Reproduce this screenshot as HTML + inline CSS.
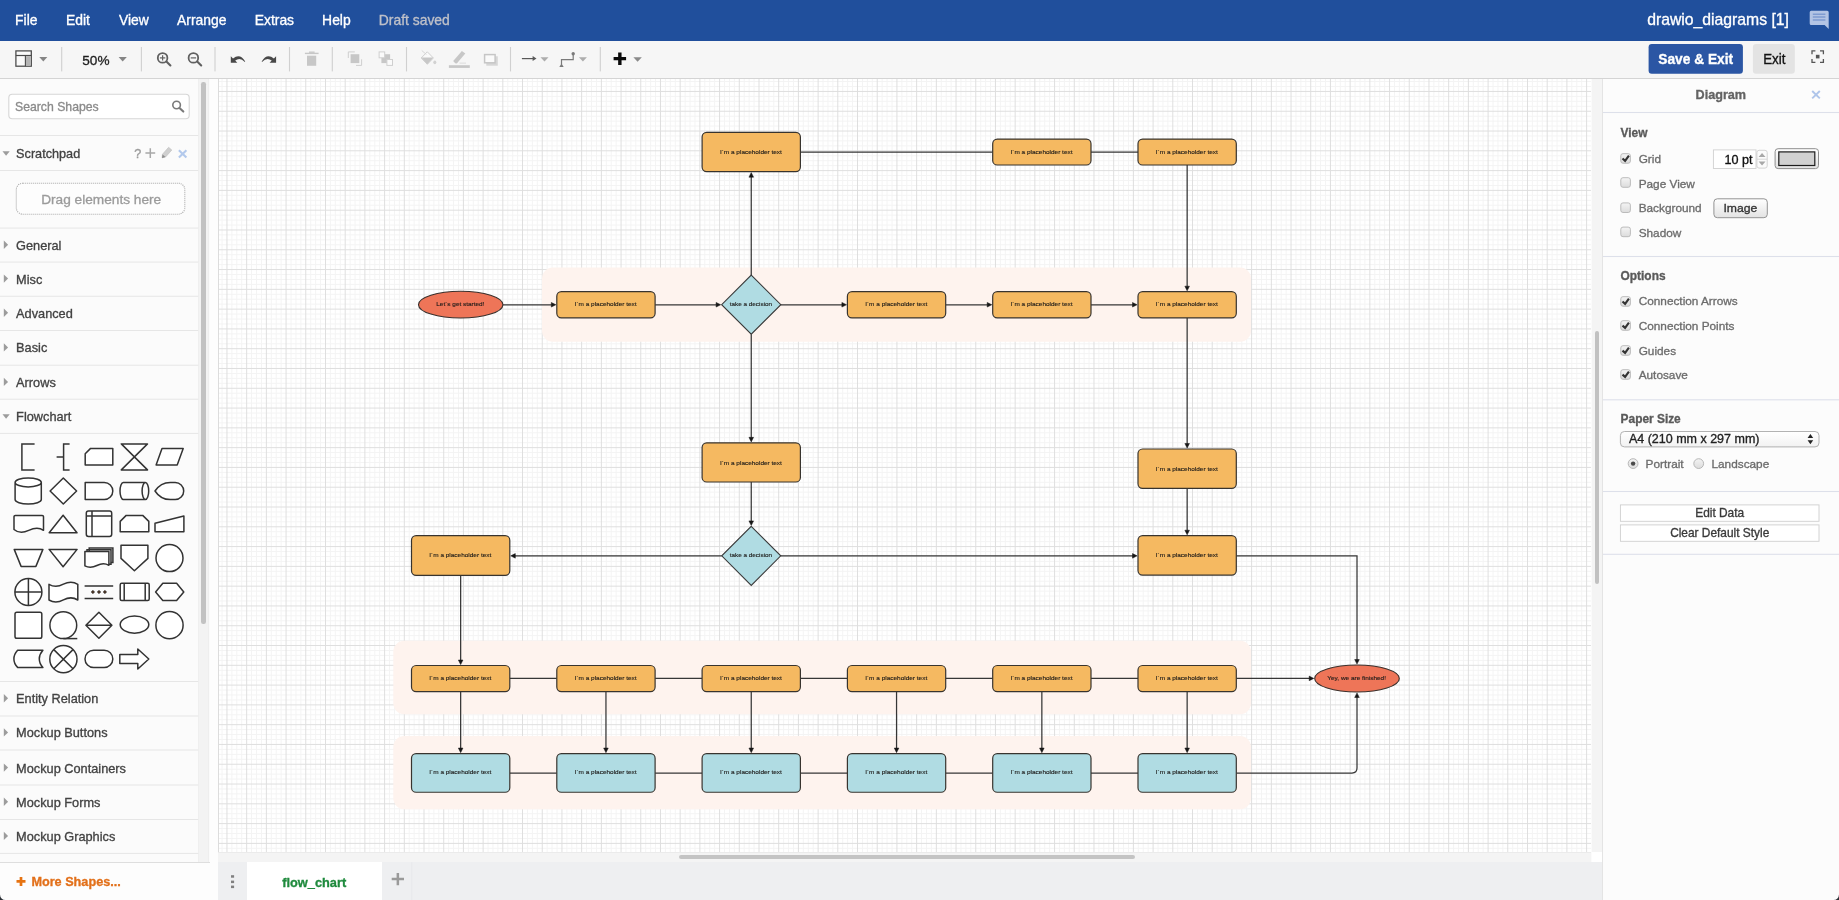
<!DOCTYPE html><html><head><meta charset="utf-8"><title>draw.io</title><style>
*{box-sizing:border-box;margin:0;padding:0}
html,body{width:1839px;height:900px;overflow:hidden;background:#fbfbfb;font-family:"Liberation Sans",sans-serif;}
.abs{position:absolute}
svg{will-change:transform}
#menubar{left:0;top:0;width:1839px;height:40.5px;background:#204f9c}
#menubar span{position:absolute;top:0;line-height:40.5px;color:#fff;font-size:13.8px;white-space:nowrap}
#toolbar{left:0;top:40.5px;width:1839px;height:38px;background:#f6f6f6;border-bottom:1px solid #d4d4d4}
.tsep{position:absolute;top:6.5px;width:1px;height:24.5px;background:#d2d2d2}
#sidebar{left:0;top:78.5px;width:198.3px;height:783.5px;background:#fbfbfb;overflow:hidden}
#sbtrack{left:198.3px;top:78.5px;width:11.2px;height:783.5px;background:#f3f3f3;border-left:1px solid #efefef;border-right:1px solid #eeeeee}
#sbthumb{left:201.4px;top:82.3px;width:4.4px;height:541.5px;background:#c2c2c2;border-radius:2.2px}
#split{left:209.5px;top:78.5px;width:8.8px;height:821.5px;background:#fdfdfd}
#sbfoot{left:0;top:862px;width:209.5px;height:38px;background:#fdfdfd;border-top:1px solid #dedede}
#canvas{left:218.3px;top:78.5px;width:1373.2px;height:773.4px;background:#fff;border-left:1px solid #dcdcdc;overflow:hidden}
#vtrack{left:1591.5px;top:78.5px;width:10px;height:773.4px;background:#f4f4f4}
#vthumb{left:1595px;top:331px;width:4px;height:253px;background:#c1c1c1;border-radius:2px}
#htrack{left:218.3px;top:851.9px;width:1373.2px;height:10.3px;background:#f4f4f4;border-top:1px solid #ebebeb}
#hthumb{left:679px;top:855.2px;width:455.8px;height:3.7px;background:#c4c4c4;border-radius:2px}
#corner{left:1591.5px;top:851.9px;width:10px;height:10.3px;background:#fff}
#tabbar{left:218.3px;top:862.2px;width:1384px;height:38px;background:#eeeff1}
#tab{left:247.2px;top:862.2px;width:135.1px;height:38px;background:#fff}
#format{left:1601.5px;top:78.5px;width:237.5px;height:821.5px;background:#fcfcfc;border-left:1.3px solid #e4e4e4}
.sec{position:absolute;left:0;width:198.3px;height:1px;background:#e4e4e4}
.sh{position:absolute;left:16.1px;font-size:12.8px;color:#3c3c3c;white-space:nowrap;line-height:16px}
.fl{position:absolute;font-size:11.8px;color:#5c5c5c;white-space:nowrap;line-height:14px}
.fb{position:absolute;font-size:11.9px;font-weight:bold;color:#585858;white-space:nowrap;line-height:14px}
.fsep{position:absolute;left:1px;width:236px;height:1px;background:#dfe2ec}
.cb{position:absolute;left:19px;width:10.3px;height:10.3px;border:1px solid #b4b4b4;border-radius:2.2px;background:linear-gradient(#fdfdfd,#e9e9e9)}
</style></head><body>
<div id="sidebar" class="abs"></div><div id="sbtrack" class="abs"></div><div id="sbthumb" class="abs"></div><div id="split" class="abs"></div><div id="sbfoot" class="abs"></div>
<div id="canvas" class="abs"><svg class="abs" style="left:-219.3px;top:-78.5px" width="1839" height="900" viewBox="0 0 1839 900" font-family="Liberation Sans, sans-serif">
<path d="M222.03 78V853M231.89 78V853M236.81 78V853M241.74 78V853M251.59 78V853M256.52 78V853M261.44 78V853M271.30 78V853M276.22 78V853M281.15 78V853M291.00 78V853M295.93 78V853M300.85 78V853M310.71 78V853M315.63 78V853M320.56 78V853M330.41 78V853M335.34 78V853M340.26 78V853M350.12 78V853M355.04 78V853M359.97 78V853M369.82 78V853M374.75 78V853M379.67 78V853M389.53 78V853M394.45 78V853M399.38 78V853M409.23 78V853M414.16 78V853M419.08 78V853M428.94 78V853M433.86 78V853M438.79 78V853M448.64 78V853M453.57 78V853M458.49 78V853M468.35 78V853M473.27 78V853M478.20 78V853M488.05 78V853M492.98 78V853M497.90 78V853M507.76 78V853M512.68 78V853M517.61 78V853M527.46 78V853M532.39 78V853M537.31 78V853M547.17 78V853M552.09 78V853M557.02 78V853M566.87 78V853M571.80 78V853M576.72 78V853M586.58 78V853M591.50 78V853M596.43 78V853M606.28 78V853M611.21 78V853M616.13 78V853M625.99 78V853M630.91 78V853M635.84 78V853M645.69 78V853M650.62 78V853M655.54 78V853M665.40 78V853M670.32 78V853M675.25 78V853M685.10 78V853M690.03 78V853M694.95 78V853M704.81 78V853M709.73 78V853M714.66 78V853M724.51 78V853M729.44 78V853M734.36 78V853M744.22 78V853M749.14 78V853M754.07 78V853M763.92 78V853M768.85 78V853M773.77 78V853M783.63 78V853M788.55 78V853M793.48 78V853M803.33 78V853M808.26 78V853M813.18 78V853M823.04 78V853M827.96 78V853M832.89 78V853M842.74 78V853M847.67 78V853M852.59 78V853M862.45 78V853M867.37 78V853M872.30 78V853M882.15 78V853M887.08 78V853M892.00 78V853M901.86 78V853M906.78 78V853M911.71 78V853M921.56 78V853M926.49 78V853M931.41 78V853M941.27 78V853M946.19 78V853M951.12 78V853M960.97 78V853M965.90 78V853M970.82 78V853M980.68 78V853M985.60 78V853M990.53 78V853M1000.38 78V853M1005.31 78V853M1010.23 78V853M1020.09 78V853M1025.01 78V853M1029.94 78V853M1039.79 78V853M1044.72 78V853M1049.64 78V853M1059.50 78V853M1064.42 78V853M1069.35 78V853M1079.20 78V853M1084.13 78V853M1089.05 78V853M1098.91 78V853M1103.83 78V853M1108.76 78V853M1118.61 78V853M1123.54 78V853M1128.46 78V853M1138.32 78V853M1143.24 78V853M1148.17 78V853M1158.02 78V853M1162.95 78V853M1167.87 78V853M1177.73 78V853M1182.65 78V853M1187.58 78V853M1197.43 78V853M1202.36 78V853M1207.28 78V853M1217.14 78V853M1222.06 78V853M1226.99 78V853M1236.84 78V853M1241.77 78V853M1246.69 78V853M1256.55 78V853M1261.47 78V853M1266.40 78V853M1276.25 78V853M1281.18 78V853M1286.10 78V853M1295.96 78V853M1300.88 78V853M1305.81 78V853M1315.66 78V853M1320.59 78V853M1325.51 78V853M1335.37 78V853M1340.29 78V853M1345.22 78V853M1355.07 78V853M1360.00 78V853M1364.92 78V853M1374.78 78V853M1379.70 78V853M1384.63 78V853M1394.48 78V853M1399.41 78V853M1404.33 78V853M1414.19 78V853M1419.11 78V853M1424.04 78V853M1433.89 78V853M1438.82 78V853M1443.74 78V853M1453.60 78V853M1458.52 78V853M1463.45 78V853M1473.30 78V853M1478.23 78V853M1483.15 78V853M1493.01 78V853M1497.93 78V853M1502.86 78V853M1512.71 78V853M1517.64 78V853M1522.56 78V853M1532.42 78V853M1537.34 78V853M1542.27 78V853M1552.12 78V853M1557.05 78V853M1561.97 78V853M1571.83 78V853M1576.75 78V853M1581.68 78V853M1591.53 78V853M218 81.56H1593M218 86.50H1593M218 96.40H1593M218 101.34H1593M218 106.29H1593M218 116.19H1593M218 121.13H1593M218 126.08H1593M218 135.97H1593M218 140.92H1593M218 145.87H1593M218 155.76H1593M218 160.71H1593M218 165.66H1593M218 175.55H1593M218 180.50H1593M218 185.44H1593M218 195.34H1593M218 200.28H1593M218 205.23H1593M218 215.12H1593M218 220.07H1593M218 225.02H1593M218 234.91H1593M218 239.86H1593M218 244.81H1593M218 254.70H1593M218 259.65H1593M218 264.60H1593M218 274.49H1593M218 279.44H1593M218 284.38H1593M218 294.28H1593M218 299.22H1593M218 304.17H1593M218 314.06H1593M218 319.01H1593M218 323.96H1593M218 333.85H1593M218 338.80H1593M218 343.75H1593M218 353.64H1593M218 358.59H1593M218 363.53H1593M218 373.43H1593M218 378.38H1593M218 383.32H1593M218 393.22H1593M218 398.16H1593M218 403.11H1593M218 413.00H1593M218 417.95H1593M218 422.90H1593M218 432.79H1593M218 437.74H1593M218 442.69H1593M218 452.58H1593M218 457.53H1593M218 462.47H1593M218 472.37H1593M218 477.32H1593M218 482.26H1593M218 492.16H1593M218 497.10H1593M218 502.05H1593M218 511.94H1593M218 516.89H1593M218 521.84H1593M218 531.73H1593M218 536.68H1593M218 541.63H1593M218 551.52H1593M218 556.47H1593M218 561.42H1593M218 571.31H1593M218 576.26H1593M218 581.20H1593M218 591.10H1593M218 596.04H1593M218 600.99H1593M218 610.89H1593M218 615.83H1593M218 620.78H1593M218 630.67H1593M218 635.62H1593M218 640.57H1593M218 650.46H1593M218 655.41H1593M218 660.36H1593M218 670.25H1593M218 675.20H1593M218 680.14H1593M218 690.04H1593M218 694.98H1593M218 699.93H1593M218 709.83H1593M218 714.77H1593M218 719.72H1593M218 729.61H1593M218 734.56H1593M218 739.51H1593M218 749.40H1593M218 754.35H1593M218 759.30H1593M218 769.19H1593M218 774.14H1593M218 779.08H1593M218 788.98H1593M218 793.92H1593M218 798.87H1593M218 808.77H1593M218 813.71H1593M218 818.66H1593M218 828.55H1593M218 833.50H1593M218 838.45H1593M218 848.34H1593" stroke="#f4f4f4" stroke-width="1" fill="none"/>
<path d="M226.96 78V853M246.67 78V853M266.37 78V853M286.07 78V853M305.78 78V853M325.49 78V853M345.19 78V853M364.89 78V853M384.60 78V853M404.30 78V853M424.01 78V853M443.72 78V853M463.42 78V853M483.12 78V853M502.83 78V853M522.53 78V853M542.24 78V853M561.94 78V853M581.65 78V853M601.36 78V853M621.06 78V853M640.76 78V853M660.47 78V853M680.17 78V853M699.88 78V853M719.58 78V853M739.29 78V853M759.00 78V853M778.70 78V853M798.40 78V853M818.11 78V853M837.81 78V853M857.52 78V853M877.23 78V853M896.93 78V853M916.63 78V853M936.34 78V853M956.04 78V853M975.75 78V853M995.45 78V853M1015.16 78V853M1034.87 78V853M1054.57 78V853M1074.27 78V853M1093.98 78V853M1113.68 78V853M1133.39 78V853M1153.09 78V853M1172.80 78V853M1192.50 78V853M1212.21 78V853M1231.91 78V853M1251.62 78V853M1271.33 78V853M1291.03 78V853M1310.73 78V853M1330.44 78V853M1350.14 78V853M1369.85 78V853M1389.55 78V853M1409.26 78V853M1428.96 78V853M1448.67 78V853M1468.38 78V853M1488.08 78V853M1507.78 78V853M1527.49 78V853M1547.19 78V853M1566.90 78V853M1586.61 78V853M218 91.45H1593M218 111.24H1593M218 131.03H1593M218 150.81H1593M218 170.60H1593M218 190.39H1593M218 210.18H1593M218 229.97H1593M218 249.75H1593M218 269.54H1593M218 289.33H1593M218 309.12H1593M218 328.91H1593M218 348.69H1593M218 368.48H1593M218 388.27H1593M218 408.06H1593M218 427.85H1593M218 447.63H1593M218 467.42H1593M218 487.21H1593M218 507.00H1593M218 526.79H1593M218 546.57H1593M218 566.36H1593M218 586.15H1593M218 605.94H1593M218 625.73H1593M218 645.51H1593M218 665.30H1593M218 685.09H1593M218 704.88H1593M218 724.67H1593M218 744.45H1593M218 764.24H1593M218 784.03H1593M218 803.82H1593M218 823.61H1593M218 843.39H1593" stroke="#dfdfdf" stroke-width="1" fill="none"/>
<rect x="542" y="267.6" width="709" height="74.1" rx="11" fill="#fef3ee"/>
<rect x="393.3" y="640.7" width="857.7" height="73.6" rx="11" fill="#fef3ee"/>
<rect x="393.3" y="736" width="857.7" height="73.3" rx="11" fill="#fef3ee"/>
<path d="M502.9 304.75 L551.8 304.75" fill="none" stroke="#363636" stroke-width="1.25"/>
<path d="M555.90 304.75 L551.30 307.05 L551.30 302.45 Z" fill="#161616" stroke="#161616" stroke-width="0.5" stroke-linejoin="miter"/>
<path d="M655.1 304.75 L716.6 304.75" fill="none" stroke="#363636" stroke-width="1.25"/>
<path d="M720.70 304.75 L716.10 307.05 L716.10 302.45 Z" fill="#161616" stroke="#161616" stroke-width="0.5" stroke-linejoin="miter"/>
<path d="M780.9 304.75 L842.4 304.75" fill="none" stroke="#363636" stroke-width="1.25"/>
<path d="M846.50 304.75 L841.90 307.05 L841.90 302.45 Z" fill="#161616" stroke="#161616" stroke-width="0.5" stroke-linejoin="miter"/>
<path d="M945.7 304.75 L987.7 304.75" fill="none" stroke="#363636" stroke-width="1.25"/>
<path d="M991.80 304.75 L987.20 307.05 L987.20 302.45 Z" fill="#161616" stroke="#161616" stroke-width="0.5" stroke-linejoin="miter"/>
<path d="M1091 304.75 L1133 304.75" fill="none" stroke="#363636" stroke-width="1.25"/>
<path d="M1137.10 304.75 L1132.50 307.05 L1132.50 302.45 Z" fill="#161616" stroke="#161616" stroke-width="0.5" stroke-linejoin="miter"/>
<path d="M751.25 275.1 L751.25 176.7" fill="none" stroke="#363636" stroke-width="1.25"/>
<path d="M751.25 172.60 L753.55 177.20 L748.95 177.20 Z" fill="#161616" stroke="#161616" stroke-width="0.5" stroke-linejoin="miter"/>
<path d="M800.4 152 L992.7 152" fill="none" stroke="#363636" stroke-width="1.25"/>
<path d="M1091 152 L1138 152" fill="none" stroke="#363636" stroke-width="1.25"/>
<path d="M1187.15 165.1 L1187.15 286.7" fill="none" stroke="#363636" stroke-width="1.25"/>
<path d="M1187.15 290.80 L1184.85 286.20 L1189.45 286.20 Z" fill="#161616" stroke="#161616" stroke-width="0.5" stroke-linejoin="miter"/>
<path d="M1187.15 317.9 L1187.15 444" fill="none" stroke="#363636" stroke-width="1.25"/>
<path d="M1187.15 448.10 L1184.85 443.50 L1189.45 443.50 Z" fill="#161616" stroke="#161616" stroke-width="0.5" stroke-linejoin="miter"/>
<path d="M1187.15 488.3 L1187.15 530.7" fill="none" stroke="#363636" stroke-width="1.25"/>
<path d="M1187.15 534.80 L1184.85 530.20 L1189.45 530.20 Z" fill="#161616" stroke="#161616" stroke-width="0.5" stroke-linejoin="miter"/>
<path d="M751.25 334.2 L751.25 437.85" fill="none" stroke="#363636" stroke-width="1.25"/>
<path d="M751.25 441.95 L748.95 437.35 L753.55 437.35 Z" fill="#161616" stroke="#161616" stroke-width="0.5" stroke-linejoin="miter"/>
<path d="M751.25 482 L751.25 521.4" fill="none" stroke="#363636" stroke-width="1.25"/>
<path d="M751.25 525.50 L748.95 520.90 L753.55 520.90 Z" fill="#161616" stroke="#161616" stroke-width="0.5" stroke-linejoin="miter"/>
<path d="M721.7 555.85 L514.8 555.85" fill="none" stroke="#363636" stroke-width="1.25"/>
<path d="M510.70 555.85 L515.30 553.55 L515.30 558.15 Z" fill="#161616" stroke="#161616" stroke-width="0.5" stroke-linejoin="miter"/>
<path d="M780.7 555.85 L1133 555.85" fill="none" stroke="#363636" stroke-width="1.25"/>
<path d="M1137.10 555.85 L1132.50 558.15 L1132.50 553.55 Z" fill="#161616" stroke="#161616" stroke-width="0.5" stroke-linejoin="miter"/>
<path d="M1236.3 555.85 L1357 555.85 L1357 660" fill="none" stroke="#363636" stroke-width="1.25"/>
<path d="M1357.00 664.10 L1354.70 659.50 L1359.30 659.50 Z" fill="#161616" stroke="#161616" stroke-width="0.5" stroke-linejoin="miter"/>
<path d="M460.65 575.3 L460.65 660.5" fill="none" stroke="#363636" stroke-width="1.25"/>
<path d="M460.65 664.60 L458.35 660.00 L462.95 660.00 Z" fill="#161616" stroke="#161616" stroke-width="0.5" stroke-linejoin="miter"/>
<path d="M509.8 678.4 L556.8 678.4" fill="none" stroke="#363636" stroke-width="1.25"/>
<path d="M655.1 678.4 L702.1 678.4" fill="none" stroke="#363636" stroke-width="1.25"/>
<path d="M800.4 678.4 L847.4 678.4" fill="none" stroke="#363636" stroke-width="1.25"/>
<path d="M945.7 678.4 L992.7 678.4" fill="none" stroke="#363636" stroke-width="1.25"/>
<path d="M1091 678.4 L1138 678.4" fill="none" stroke="#363636" stroke-width="1.25"/>
<path d="M1236.3 678.4 L1309.7 678.4" fill="none" stroke="#363636" stroke-width="1.25"/>
<path d="M1313.80 678.40 L1309.20 680.70 L1309.20 676.10 Z" fill="#161616" stroke="#161616" stroke-width="0.5" stroke-linejoin="miter"/>
<path d="M460.65 691.6 L460.65 748.55" fill="none" stroke="#363636" stroke-width="1.25"/>
<path d="M460.65 752.65 L458.35 748.05 L462.95 748.05 Z" fill="#161616" stroke="#161616" stroke-width="0.5" stroke-linejoin="miter"/>
<path d="M605.95 691.6 L605.95 748.55" fill="none" stroke="#363636" stroke-width="1.25"/>
<path d="M605.95 752.65 L603.65 748.05 L608.25 748.05 Z" fill="#161616" stroke="#161616" stroke-width="0.5" stroke-linejoin="miter"/>
<path d="M751.25 691.6 L751.25 748.55" fill="none" stroke="#363636" stroke-width="1.25"/>
<path d="M751.25 752.65 L748.95 748.05 L753.55 748.05 Z" fill="#161616" stroke="#161616" stroke-width="0.5" stroke-linejoin="miter"/>
<path d="M896.55 691.6 L896.55 748.55" fill="none" stroke="#363636" stroke-width="1.25"/>
<path d="M896.55 752.65 L894.25 748.05 L898.85 748.05 Z" fill="#161616" stroke="#161616" stroke-width="0.5" stroke-linejoin="miter"/>
<path d="M1041.85 691.6 L1041.85 748.55" fill="none" stroke="#363636" stroke-width="1.25"/>
<path d="M1041.85 752.65 L1039.55 748.05 L1044.15 748.05 Z" fill="#161616" stroke="#161616" stroke-width="0.5" stroke-linejoin="miter"/>
<path d="M1187.15 691.6 L1187.15 748.55" fill="none" stroke="#363636" stroke-width="1.25"/>
<path d="M1187.15 752.65 L1184.85 748.05 L1189.45 748.05 Z" fill="#161616" stroke="#161616" stroke-width="0.5" stroke-linejoin="miter"/>
<path d="M509.8 773 L556.8 773" fill="none" stroke="#363636" stroke-width="1.25"/>
<path d="M655.1 773 L702.1 773" fill="none" stroke="#363636" stroke-width="1.25"/>
<path d="M800.4 773 L847.4 773" fill="none" stroke="#363636" stroke-width="1.25"/>
<path d="M945.7 773 L992.7 773" fill="none" stroke="#363636" stroke-width="1.25"/>
<path d="M1091 773 L1138 773" fill="none" stroke="#363636" stroke-width="1.25"/>
<path d="M1236.3 773 L1352 773 Q1357 773 1357 768 L1357 697" fill="none" stroke="#363636" stroke-width="1.25"/>
<path d="M1357.00 692.90 L1359.30 697.50 L1354.70 697.50 Z" fill="#161616" stroke="#161616" stroke-width="0.5" stroke-linejoin="miter"/>
<rect x="702.1" y="132.3" width="98.3" height="39.4" rx="4.6" fill="#f5b961" stroke="#38342f" stroke-width="1.2"/>
<text x="750.9" y="153.5" font-size="6.1" text-anchor="middle" textLength="62" lengthAdjust="spacingAndGlyphs" fill="#1c1a18" stroke="#1c1a18" stroke-width="0.12">I´m a placeholder text</text>
<rect x="992.7" y="139.1" width="98.3" height="25.9" rx="4.6" fill="#f5b961" stroke="#38342f" stroke-width="1.2"/>
<text x="1041.5" y="153.55" font-size="6.1" text-anchor="middle" textLength="62" lengthAdjust="spacingAndGlyphs" fill="#1c1a18" stroke="#1c1a18" stroke-width="0.12">I´m a placeholder text</text>
<rect x="1138" y="139.1" width="98.3" height="25.9" rx="4.6" fill="#f5b961" stroke="#38342f" stroke-width="1.2"/>
<text x="1186.8" y="153.55" font-size="6.1" text-anchor="middle" textLength="62" lengthAdjust="spacingAndGlyphs" fill="#1c1a18" stroke="#1c1a18" stroke-width="0.12">I´m a placeholder text</text>
<rect x="556.8" y="291.7" width="98.3" height="26.2" rx="4.6" fill="#f5b961" stroke="#38342f" stroke-width="1.2"/>
<text x="605.6" y="306.3" font-size="6.1" text-anchor="middle" textLength="62" lengthAdjust="spacingAndGlyphs" fill="#1c1a18" stroke="#1c1a18" stroke-width="0.12">I´m a placeholder text</text>
<rect x="847.4" y="291.7" width="98.3" height="26.2" rx="4.6" fill="#f5b961" stroke="#38342f" stroke-width="1.2"/>
<text x="896.2" y="306.3" font-size="6.1" text-anchor="middle" textLength="62" lengthAdjust="spacingAndGlyphs" fill="#1c1a18" stroke="#1c1a18" stroke-width="0.12">I´m a placeholder text</text>
<rect x="992.7" y="291.7" width="98.3" height="26.2" rx="4.6" fill="#f5b961" stroke="#38342f" stroke-width="1.2"/>
<text x="1041.5" y="306.3" font-size="6.1" text-anchor="middle" textLength="62" lengthAdjust="spacingAndGlyphs" fill="#1c1a18" stroke="#1c1a18" stroke-width="0.12">I´m a placeholder text</text>
<rect x="1138" y="291.7" width="98.3" height="26.2" rx="4.6" fill="#f5b961" stroke="#38342f" stroke-width="1.2"/>
<text x="1186.8" y="306.3" font-size="6.1" text-anchor="middle" textLength="62" lengthAdjust="spacingAndGlyphs" fill="#1c1a18" stroke="#1c1a18" stroke-width="0.12">I´m a placeholder text</text>
<rect x="702.1" y="442.8" width="98.3" height="39.2" rx="4.6" fill="#f5b961" stroke="#38342f" stroke-width="1.2"/>
<text x="750.9" y="464.6" font-size="6.1" text-anchor="middle" textLength="62" lengthAdjust="spacingAndGlyphs" fill="#1c1a18" stroke="#1c1a18" stroke-width="0.12">I´m a placeholder text</text>
<rect x="1138" y="449" width="98.3" height="39.3" rx="4.6" fill="#f5b961" stroke="#38342f" stroke-width="1.2"/>
<text x="1186.8" y="470.95" font-size="6.1" text-anchor="middle" textLength="62" lengthAdjust="spacingAndGlyphs" fill="#1c1a18" stroke="#1c1a18" stroke-width="0.12">I´m a placeholder text</text>
<rect x="411.5" y="535.7" width="98.3" height="39.6" rx="4.6" fill="#f5b961" stroke="#38342f" stroke-width="1.2"/>
<text x="460.3" y="557" font-size="6.1" text-anchor="middle" textLength="62" lengthAdjust="spacingAndGlyphs" fill="#1c1a18" stroke="#1c1a18" stroke-width="0.12">I´m a placeholder text</text>
<rect x="1138" y="535.7" width="98.3" height="39.4" rx="4.6" fill="#f5b961" stroke="#38342f" stroke-width="1.2"/>
<text x="1186.8" y="556.9" font-size="6.1" text-anchor="middle" textLength="62" lengthAdjust="spacingAndGlyphs" fill="#1c1a18" stroke="#1c1a18" stroke-width="0.12">I´m a placeholder text</text>
<rect x="411.5" y="665.5" width="98.3" height="26.1" rx="4.6" fill="#f5b961" stroke="#38342f" stroke-width="1.2"/>
<text x="460.3" y="680.05" font-size="6.1" text-anchor="middle" textLength="62" lengthAdjust="spacingAndGlyphs" fill="#1c1a18" stroke="#1c1a18" stroke-width="0.12">I´m a placeholder text</text>
<rect x="556.8" y="665.5" width="98.3" height="26.1" rx="4.6" fill="#f5b961" stroke="#38342f" stroke-width="1.2"/>
<text x="605.6" y="680.05" font-size="6.1" text-anchor="middle" textLength="62" lengthAdjust="spacingAndGlyphs" fill="#1c1a18" stroke="#1c1a18" stroke-width="0.12">I´m a placeholder text</text>
<rect x="702.1" y="665.5" width="98.3" height="26.1" rx="4.6" fill="#f5b961" stroke="#38342f" stroke-width="1.2"/>
<text x="750.9" y="680.05" font-size="6.1" text-anchor="middle" textLength="62" lengthAdjust="spacingAndGlyphs" fill="#1c1a18" stroke="#1c1a18" stroke-width="0.12">I´m a placeholder text</text>
<rect x="847.4" y="665.5" width="98.3" height="26.1" rx="4.6" fill="#f5b961" stroke="#38342f" stroke-width="1.2"/>
<text x="896.2" y="680.05" font-size="6.1" text-anchor="middle" textLength="62" lengthAdjust="spacingAndGlyphs" fill="#1c1a18" stroke="#1c1a18" stroke-width="0.12">I´m a placeholder text</text>
<rect x="992.7" y="665.5" width="98.3" height="26.1" rx="4.6" fill="#f5b961" stroke="#38342f" stroke-width="1.2"/>
<text x="1041.5" y="680.05" font-size="6.1" text-anchor="middle" textLength="62" lengthAdjust="spacingAndGlyphs" fill="#1c1a18" stroke="#1c1a18" stroke-width="0.12">I´m a placeholder text</text>
<rect x="1138" y="665.5" width="98.3" height="26.1" rx="4.6" fill="#f5b961" stroke="#38342f" stroke-width="1.2"/>
<text x="1186.8" y="680.05" font-size="6.1" text-anchor="middle" textLength="62" lengthAdjust="spacingAndGlyphs" fill="#1c1a18" stroke="#1c1a18" stroke-width="0.12">I´m a placeholder text</text>
<rect x="411.5" y="753.55" width="98.3" height="38.7" rx="4.6" fill="#b0dce3" stroke="#38342f" stroke-width="1.2"/>
<text x="460.3" y="774.4" font-size="6.1" text-anchor="middle" textLength="62" lengthAdjust="spacingAndGlyphs" fill="#1c1a18" stroke="#1c1a18" stroke-width="0.12">I´m a placeholder text</text>
<rect x="556.8" y="753.55" width="98.3" height="38.7" rx="4.6" fill="#b0dce3" stroke="#38342f" stroke-width="1.2"/>
<text x="605.6" y="774.4" font-size="6.1" text-anchor="middle" textLength="62" lengthAdjust="spacingAndGlyphs" fill="#1c1a18" stroke="#1c1a18" stroke-width="0.12">I´m a placeholder text</text>
<rect x="702.1" y="753.55" width="98.3" height="38.7" rx="4.6" fill="#b0dce3" stroke="#38342f" stroke-width="1.2"/>
<text x="750.9" y="774.4" font-size="6.1" text-anchor="middle" textLength="62" lengthAdjust="spacingAndGlyphs" fill="#1c1a18" stroke="#1c1a18" stroke-width="0.12">I´m a placeholder text</text>
<rect x="847.4" y="753.55" width="98.3" height="38.7" rx="4.6" fill="#b0dce3" stroke="#38342f" stroke-width="1.2"/>
<text x="896.2" y="774.4" font-size="6.1" text-anchor="middle" textLength="62" lengthAdjust="spacingAndGlyphs" fill="#1c1a18" stroke="#1c1a18" stroke-width="0.12">I´m a placeholder text</text>
<rect x="992.7" y="753.55" width="98.3" height="38.7" rx="4.6" fill="#b0dce3" stroke="#38342f" stroke-width="1.2"/>
<text x="1041.5" y="774.4" font-size="6.1" text-anchor="middle" textLength="62" lengthAdjust="spacingAndGlyphs" fill="#1c1a18" stroke="#1c1a18" stroke-width="0.12">I´m a placeholder text</text>
<rect x="1138" y="753.55" width="98.3" height="38.7" rx="4.6" fill="#b0dce3" stroke="#38342f" stroke-width="1.2"/>
<text x="1186.8" y="774.4" font-size="6.1" text-anchor="middle" textLength="62" lengthAdjust="spacingAndGlyphs" fill="#1c1a18" stroke="#1c1a18" stroke-width="0.12">I´m a placeholder text</text>
<path d="M751.25 275.05 L780.85 304.65 L751.25 334.25 L721.65 304.65 Z" fill="#b0dce3" stroke="#3a3a3a" stroke-width="1.1" stroke-linejoin="miter"/>
<text x="750.9" y="306.15" font-size="6.1" text-anchor="middle" textLength="42.5" lengthAdjust="spacingAndGlyphs" fill="#1c1a18" stroke="#1c1a18" stroke-width="0.12">take a decision</text>
<path d="M751.25 526.35 L780.75 555.85 L751.25 585.35 L721.75 555.85 Z" fill="#b0dce3" stroke="#3a3a3a" stroke-width="1.1" stroke-linejoin="miter"/>
<text x="750.9" y="557.35" font-size="6.1" text-anchor="middle" textLength="42.5" lengthAdjust="spacingAndGlyphs" fill="#1c1a18" stroke="#1c1a18" stroke-width="0.12">take a decision</text>
<ellipse cx="460.7" cy="304.65" rx="42.2" ry="13.35" fill="#ee7558" stroke="#3a302c" stroke-width="1.1"/>
<text x="460.35" y="306.15" font-size="6.1" text-anchor="middle" textLength="48.2" lengthAdjust="spacingAndGlyphs" fill="#1c1a18" stroke="#1c1a18" stroke-width="0.12">Let´s get started!</text>
<ellipse cx="1357" cy="678.5" rx="42.3" ry="13.5" fill="#ee7558" stroke="#3a302c" stroke-width="1.1"/>
<text x="1356.65" y="680" font-size="6.1" text-anchor="middle" textLength="58.6" lengthAdjust="spacingAndGlyphs" fill="#1c1a18" stroke="#1c1a18" stroke-width="0.12">Yey, we are finished!</text>
</svg></div>
<div id="vtrack" class="abs"></div><div id="vthumb" class="abs"></div><div id="htrack" class="abs"></div><div id="hthumb" class="abs"></div><div id="corner" class="abs"></div>
<div id="tabbar" class="abs"></div><div id="tab" class="abs"></div>
<div id="format" class="abs"></div>
<div id="menubar" class="abs"></div><div id="toolbar" class="abs"></div>
<svg class="abs" style="left:0;top:0" width="1839" height="900" viewBox="0 0 1839 900" font-family="Liberation Sans, sans-serif">
<g>
<text x="15.1" y="25.1" font-size="13.9" fill="#fff" stroke="#fff" stroke-width="0.32">File</text>
<text x="66" y="25.1" font-size="13.9" fill="#fff" stroke="#fff" stroke-width="0.32">Edit</text>
<text x="119" y="25.1" font-size="13.9" fill="#fff" stroke="#fff" stroke-width="0.32">View</text>
<text x="177.1" y="25.1" font-size="13.9" fill="#fff" stroke="#fff" stroke-width="0.32">Arrange</text>
<text x="254.7" y="25.1" font-size="13.9" fill="#fff" stroke="#fff" stroke-width="0.32">Extras</text>
<text x="322.1" y="25.1" font-size="13.9" fill="#fff" stroke="#fff" stroke-width="0.32">Help</text>
<text x="378.8" y="25.1" font-size="13.9" fill="#bfc1c9" stroke="#bfc1c9" stroke-width="0.32">Draft saved</text>
<text x="1647.2" y="25.3" font-size="15.75" fill="#fff" textLength="141.8" lengthAdjust="spacingAndGlyphs" stroke="#fff" stroke-width="0.32">drawio_diagrams [1]</text>
<path d="M1811.2 10.8 H1827.2 Q1828.7 10.8 1828.7 12.3 V28.9 L1824.6 24.9 H1811.2 Q1809.7 24.9 1809.7 23.4 V12.3 Q1809.7 10.8 1811.2 10.8 Z" fill="#b3c4e4"/><path d="M1812.8 14.3H1825.4 M1812.8 17.1H1825.4 M1812.8 19.9H1825.4" stroke="#7f9bd0" stroke-width="1.5" fill="none"/></g>
<g>
<rect x="61.15" y="47" width="1.1" height="24.4" fill="#d0d0d0"/>
<rect x="140.85" y="47" width="1.1" height="24.4" fill="#d0d0d0"/>
<rect x="214.45" y="47" width="1.1" height="24.4" fill="#d0d0d0"/>
<rect x="288.95" y="47" width="1.1" height="24.4" fill="#d0d0d0"/>
<rect x="331.75" y="47" width="1.1" height="24.4" fill="#d0d0d0"/>
<rect x="405.95" y="47" width="1.1" height="24.4" fill="#d0d0d0"/>
<rect x="509.95" y="47" width="1.1" height="24.4" fill="#d0d0d0"/>
<rect x="599.75" y="47" width="1.1" height="24.4" fill="#d0d0d0"/>
<rect x="15.9" y="50.9" width="15.4" height="15.3" fill="#fafafa" stroke="#484848" stroke-width="1.25"/>
<path d="M15.9 55.5H31.3" stroke="#484848" stroke-width="1.2"/>
<rect x="25.9" y="56.1" width="4.8" height="9.5" fill="#b4b4b4"/>
<path d="M25.4 55.5V66.2" stroke="#484848" stroke-width="1.1"/>
<path d="M39.3 56.9 L47.3 56.9 L43.3 61.4 Z" fill="#858585"/>
<text x="82.3" y="64.8" font-size="13.6" fill="#1e1e1e" stroke="#1e1e1e" stroke-width="0.32">50%</text>
<path d="M118.6 56.9 L126.8 56.9 L122.7 61.4 Z" fill="#858585"/>
<circle cx="162.6" cy="57.9" r="4.8" fill="none" stroke="#606060" stroke-width="1.8"/>
<path d="M166.4 61.6 L170.4 65.5" stroke="#606060" stroke-width="2.1" stroke-linecap="round"/>
<path d="M159.9 57.9H165.3" stroke="#606060" stroke-width="1.2"/>
<path d="M162.6 55.2V60.6" stroke="#606060" stroke-width="1.2"/>
<circle cx="193.4" cy="57.9" r="4.8" fill="none" stroke="#606060" stroke-width="1.8"/>
<path d="M197.2 61.6 L201.2 65.5" stroke="#606060" stroke-width="2.1" stroke-linecap="round"/>
<path d="M190.7 57.9H196.1" stroke="#606060" stroke-width="1.2"/>
<path d="M230.8 56.2 L230.8 62.7 L237.3 62.7 L235.2 60.6 Q239.8 56.6 244.9 61.9 L245.2 61.6 Q240.2 52.8 233 58.4 Z" fill="#484848"/>
<path d="M276.1 56.2 L276.1 62.7 L269.6 62.7 L271.7 60.6 Q267.1 56.6 262 61.9 L261.7 61.6 Q266.7 52.8 273.9 58.4 Z" fill="#484848"/>
<rect x="307" y="55.7" width="9.2" height="10.1" fill="#c7c7c7"/>
<rect x="304.9" y="52.7" width="13.7" height="1.4" fill="#c7c7c7"/><rect x="309" y="51.5" width="5.6" height="1.4" fill="#c7c7c7"/>
<path d="M354.8 51.9H348.3V58" fill="none" stroke="#cfcfcf" stroke-width="1"/>
<path d="M356 65.4H361.6V59.3" fill="none" stroke="#cfcfcf" stroke-width="1"/>
<rect x="350.6" y="54.2" width="8.7" height="8.9" fill="#c7c7c7"/>
<rect x="381.4" y="54.2" width="8.7" height="8.9" fill="#c7c7c7"/>
<rect x="379.1" y="51.9" width="5.6" height="5.9" fill="#fafafa" stroke="#cfcfcf" stroke-width="1"/>
<rect x="386.9" y="59.5" width="5.6" height="5.9" fill="#fafafa" stroke="#cfcfcf" stroke-width="1"/>
<path d="M427.3 51.8 L433.4 58 L427.3 64.3 L421.2 58 Z" fill="#fafafa" stroke="#cbcbcb" stroke-width="0.9"/>
<path d="M421.2 57.4 H433.4 L427.3 64.3 Z" fill="#c7c7c7"/>
<path d="M421.8 50.6 L426.4 54.4" stroke="#d4d4d4" stroke-width="0.9"/>
<ellipse cx="434.8" cy="62.3" rx="1.5" ry="1.9" fill="#d2d2d2"/>
<path d="M455.2 63.2 L453.2 60.9 L461.9 50.9 L465.3 53.6 L456.8 63.5 Z" fill="#c7c7c7"/>
<rect x="448.9" y="65.2" width="20.9" height="2.7" fill="#c7c7c7"/>
<path d="M459.5 63.1H466" stroke="#d6d6d6" stroke-width="0.8"/>
<rect x="486.3" y="56.3" width="11.5" height="9.4" fill="#d6d6d6"/>
<rect x="484.6" y="54.6" width="10.5" height="8.2" fill="#fafafa" stroke="#c6c6c6" stroke-width="1.5"/>
<path d="M521.9 58.6H534" stroke="#585858" stroke-width="1.2"/><path d="M536.5 58.6 L532.6 56.1 L532.6 61.1 Z" fill="#585858"/>
<path d="M540.5 57.2 L548.5 57.2 L544.5 61.6 Z" fill="#adadad"/>
<path d="M573.2 54V59.7H561.5V64.5" fill="none" stroke="#7a7a7a" stroke-width="1.2"/><circle cx="573.2" cy="53.8" r="1.7" fill="#7a7a7a"/><path d="M561.5 63.4 L563.7 66.9 H559.3 Z" fill="#7a7a7a"/>
<path d="M578.9 57.2 L586.9 57.2 L582.9 61.6 Z" fill="#adadad"/>
<path d="M613.6 58.65H626.1 M619.85 52.4V64.9" stroke="#0a0a0a" stroke-width="3.4"/>
<path d="M633.4 57.2 L641.8 57.2 L637.6 61.7 Z" fill="#8a8a8a"/>
<rect x="1648.6" y="44" width="94.3" height="29.7" rx="3.2" fill="#2b56a4"/>
<text x="1658.3" y="63.6" font-size="13.75" font-weight="bold" fill="#fff" textLength="74.8" lengthAdjust="spacingAndGlyphs" stroke="#fff" stroke-width="0.32">Save &amp; Exit</text>
<rect x="1752.9" y="44" width="41.9" height="29.7" rx="3.2" fill="#e3e3e3"/>
<text x="1763.2" y="63.6" font-size="13.75" fill="#111" textLength="22.3" lengthAdjust="spacingAndGlyphs" stroke="#111" stroke-width="0.32">Exit</text>
<path d="M1812 54.3V50.9H1815.4 M1820 50.9H1823.4V54.3 M1823.4 58.9V62.3H1820 M1815.4 62.3H1812V58.9" fill="none" stroke="#555" stroke-width="1.3"/><rect x="1815.9" y="54.8" width="3.6" height="3.6" fill="#555"/>
</g>
<g>
<rect x="8.8" y="94.3" width="180.4" height="24.4" rx="3.5" fill="#fff" stroke="#d6d6d6" stroke-width="1.1"/>
<text x="15" y="110.8" font-size="12.1" fill="#8b8b8b" textLength="83.7" lengthAdjust="spacingAndGlyphs" stroke="#8b8b8b" stroke-width="0.32">Search Shapes</text>
<circle cx="176.6" cy="105" r="3.8" fill="none" stroke="#7a7a7a" stroke-width="1.6"/><path d="M179.5 108 L183.3 111.6" stroke="#7a7a7a" stroke-width="2.1" stroke-linecap="round"/>
<rect x="0" y="135" width="198.3" height="1" fill="#e6e6e6"/>
<rect x="0" y="170" width="198.3" height="1" fill="#e6e6e6"/>
<rect x="0" y="227.6" width="198.3" height="1" fill="#e6e6e6"/>
<rect x="0" y="261.6" width="198.3" height="1" fill="#e6e6e6"/>
<rect x="0" y="295.8" width="198.3" height="1" fill="#e6e6e6"/>
<rect x="0" y="330" width="198.3" height="1" fill="#e6e6e6"/>
<rect x="0" y="364.7" width="198.3" height="1" fill="#e6e6e6"/>
<rect x="0" y="398.7" width="198.3" height="1" fill="#e6e6e6"/>
<rect x="0" y="432.9" width="198.3" height="1" fill="#e6e6e6"/>
<rect x="0" y="681" width="198.3" height="1" fill="#e6e6e6"/>
<rect x="0" y="715.5" width="198.3" height="1" fill="#e6e6e6"/>
<rect x="0" y="749.5" width="198.3" height="1" fill="#e6e6e6"/>
<rect x="0" y="784.5" width="198.3" height="1" fill="#e6e6e6"/>
<rect x="0" y="819" width="198.3" height="1" fill="#e6e6e6"/>
<rect x="0" y="852.9" width="198.3" height="1" fill="#e6e6e6"/>
<path d="M2.5 151.2 H9.7 L6.1 155.8 Z" fill="#9c9c9c"/>
<text x="16.1" y="158.3" font-size="12.75" fill="#424242" textLength="64.1" lengthAdjust="spacingAndGlyphs" stroke="#424242" stroke-width="0.32">Scratchpad</text>
<text x="134.3" y="157.9" font-size="12.6" fill="#9a9a9a" stroke="#9a9a9a" stroke-width="0.32">?</text>
<path d="M145.4 153.1H155.2 M150.3 148.2V157.9" stroke="#a8a8a8" stroke-width="1.5"/>
<path d="M162 157.9 L162.5 154.2 L168.6 147.3 L171.8 150 L165.7 156.9 Z" fill="#cfcfcf" stroke="#bdbdbd" stroke-width="0.6"/><path d="M162 157.9 L162.5 154.4 L165.5 157 Z" fill="#8d8d8d"/>
<path d="M178.9 150.2 L186.4 157.6 M186.4 150.2 L178.9 157.6" stroke="#b3c9ec" stroke-width="2.1"/>
<rect x="16.3" y="183.2" width="168.5" height="31" rx="6.5" fill="#fdfdfd" stroke="#a9a9a9" stroke-width="1.1" stroke-dasharray="1 1"/>
<text x="41.2" y="203.9" font-size="13.7" fill="#9b9b9b" textLength="120" lengthAdjust="spacingAndGlyphs" stroke="#9b9b9b" stroke-width="0.32">Drag elements here</text>
<path d="M3.8 240.6 V249 L8.1 244.8 Z" fill="#9c9c9c"/>
<text x="16.1" y="249.7" font-size="12.75" fill="#424242" stroke="#424242" stroke-width="0.32">General</text>
<path d="M3.8 274.4 V282.8 L8.1 278.6 Z" fill="#9c9c9c"/>
<text x="16.1" y="283.5" font-size="12.75" fill="#424242" stroke="#424242" stroke-width="0.32">Misc</text>
<path d="M3.8 308.6 V317 L8.1 312.8 Z" fill="#9c9c9c"/>
<text x="16.1" y="317.7" font-size="12.75" fill="#424242" stroke="#424242" stroke-width="0.32">Advanced</text>
<path d="M3.8 343.2 V351.6 L8.1 347.4 Z" fill="#9c9c9c"/>
<text x="16.1" y="352.3" font-size="12.75" fill="#424242" stroke="#424242" stroke-width="0.32">Basic</text>
<path d="M3.8 377.7 V386.1 L8.1 381.9 Z" fill="#9c9c9c"/>
<text x="16.1" y="386.8" font-size="12.75" fill="#424242" stroke="#424242" stroke-width="0.32">Arrows</text>
<path d="M2.5 414.2 H9.7 L6.1 418.8 Z" fill="#9c9c9c"/>
<text x="16.1" y="421.3" font-size="12.75" fill="#424242" stroke="#424242" stroke-width="0.32">Flowchart</text>
<path d="M3.8 694 V702.4 L8.1 698.2 Z" fill="#9c9c9c"/>
<text x="16.1" y="703.1" font-size="12.75" fill="#424242" stroke="#424242" stroke-width="0.32">Entity Relation</text>
<path d="M3.8 728.2 V736.6 L8.1 732.4 Z" fill="#9c9c9c"/>
<text x="16.1" y="737.3" font-size="12.75" fill="#424242" stroke="#424242" stroke-width="0.32">Mockup Buttons</text>
<path d="M3.8 763.4 V771.8 L8.1 767.6 Z" fill="#9c9c9c"/>
<text x="16.1" y="772.5" font-size="12.75" fill="#424242" stroke="#424242" stroke-width="0.32">Mockup Containers</text>
<path d="M3.8 797.5 V805.9 L8.1 801.7 Z" fill="#9c9c9c"/>
<text x="16.1" y="806.6" font-size="12.75" fill="#424242" stroke="#424242" stroke-width="0.32">Mockup Forms</text>
<path d="M3.8 831.7 V840.1 L8.1 835.9 Z" fill="#9c9c9c"/>
<text x="16.1" y="840.8" font-size="12.75" fill="#424242" stroke="#424242" stroke-width="0.32">Mockup Graphics</text>
<path d="M16.5 881.4H25.5 M21 876.9V885.9" stroke="#e67312" stroke-width="2.7"/>
<text x="31.4" y="885.9" font-size="12.7" font-weight="bold" fill="#e2701a" textLength="89.4" lengthAdjust="spacingAndGlyphs" stroke="#e2701a" stroke-width="0.32">More Shapes...</text>
<path d="M34.6 443.9H21.9V469.9H34.6" fill="none" stroke="#333" stroke-width="1.5"/>
<path d="M69.6 443.9H63.6V469.9H69.6 M56.6 456.9H63.6" fill="none" stroke="#333" stroke-width="1.5"/>
<path d="M90.6 448.4H112.8V464.9H85.2V453.8Z" fill="#fff" stroke="#333" stroke-width="1.5" stroke-linejoin="round"/>
<path d="M121.3 443.9H147.5L121.3 469.9H147.5Z" fill="#fff" stroke="#333" stroke-width="1.5" stroke-linejoin="round"/>
<path d="M162 448.4H183.2L177.2 464.9H156.1Z" fill="#fff" stroke="#333" stroke-width="1.5" stroke-linejoin="round"/>
<path d="M15.1 482.4 V499.6 A13.1 4.5 0 0 0 41.3 499.6 V482.4 A13.1 4.5 0 0 0 15.1 482.4 A13.1 4.5 0 0 0 41.3 482.4" fill="#fff" stroke="#333" stroke-width="1.5" stroke-linejoin="round"/>
<path d="M63.3 478L76.6 491L63.3 504L50.1 491Z" fill="#fff" stroke="#333" stroke-width="1.5" stroke-linejoin="round"/>
<path d="M85.2 482.4H104.3A8.5 8.6 0 0 1 104.3 499.6H85.2Z" fill="#fff" stroke="#333" stroke-width="1.5" stroke-linejoin="round"/>
<path d="M123.3 482.4H145.4A3.3 8.6 0 0 1 145.4 499.6H123.3A3.3 8.6 0 0 1 123.3 482.4Z M145.4 482.4A3.3 8.6 0 0 0 145.4 499.6" fill="#fff" stroke="#333" stroke-width="1.5" stroke-linejoin="round"/>
<path d="M155 491Q160.6 482.4 170.3 482.4H175.2A8.5 8.6 0 0 1 175.2 499.6H170.3Q160.6 499.6 155 491Z" fill="#fff" stroke="#333" stroke-width="1.5" stroke-linejoin="round"/>
<path d="M15.3 515.4H42.2A1.3 1.3 0 0 1 43.5 516.7V530.3Q37.5 526.3 28.7 530.4Q20 534.6 14 529.5V516.7A1.3 1.3 0 0 1 15.3 515.4Z" fill="#fff" stroke="#333" stroke-width="1.5" stroke-linejoin="round"/>
<path d="M63.1 515.2L77 532.8H49.2Z" fill="#fff" stroke="#333" stroke-width="1.5" stroke-linejoin="round"/>
<rect x="86.3" y="511" width="25.4" height="25.4" rx="2.2" fill="#fff" stroke="#333" stroke-width="1.5" stroke-linejoin="round"/>
<path d="M92 511V536.4 M86.3 516H111.7" fill="none" stroke="#333" stroke-width="1.5"/>
<path d="M126.2 515.4H142.7L148.8 521.4V531.8H120.2V521.4Z" fill="#fff" stroke="#333" stroke-width="1.5" stroke-linejoin="round"/>
<path d="M155 523.3L183.9 516V531.8H155Z" fill="#fff" stroke="#333" stroke-width="1.5" stroke-linejoin="round"/>
<path d="M14.2 549.4H42.9L35.9 566.4H21.1Z" fill="#fff" stroke="#333" stroke-width="1.5" stroke-linejoin="round"/>
<path d="M49.1 549.4H77.1L63.1 566.8Z" fill="#fff" stroke="#333" stroke-width="1.5" stroke-linejoin="round"/>
<path d="M89.2 551.2V548H112.9V562.5H110.7" fill="none" stroke="#333" stroke-width="1.5"/>
<path d="M87 552.9V549.7H111V564.2H108.9" fill="none" stroke="#333" stroke-width="1.5"/>
<path d="M84.9 551.6H108.9V565.3Q103.5 562.3 96.9 565.5Q90.3 568.7 84.9 565.8Z" fill="#fff" stroke="#333" stroke-width="1.5" stroke-linejoin="round"/>
<path d="M121 545.3H147.9V558.4L134.4 570.8L121 558.4Z" fill="#fff" stroke="#333" stroke-width="1.5" stroke-linejoin="round"/>
<circle cx="169.5" cy="558.1" r="13.5" fill="#fff" stroke="#333" stroke-width="1.5" stroke-linejoin="round"/>
<circle cx="28.4" cy="592" r="13.5" fill="#fff" stroke="#333" stroke-width="1.5" stroke-linejoin="round"/>
<path d="M14.9 592H41.9 M28.4 578.5V605.5" fill="none" stroke="#333" stroke-width="1.5"/>
<path d="M49 584.3Q55.6 588.3 63.4 584.2Q71.2 580.1 77.8 584.3V600Q71.2 595.8 63.4 599.9Q55.6 604 49 600Z" fill="#fff" stroke="#333" stroke-width="1.5" stroke-linejoin="round"/>
<path d="M84.6 586H113.2 M84.6 598.4H113.2" fill="none" stroke="#333" stroke-width="1.5"/>
<path d="M92.9 590.2L94.7 592L92.9 593.8L91.1 592Z" fill="#4a3424" stroke="#2f2f2f" stroke-width="0.5"/>
<path d="M99 590.2L100.8 592L99 593.8L97.2 592Z" fill="#4a3424" stroke="#2f2f2f" stroke-width="0.5"/>
<path d="M104.9 590.2L106.7 592L104.9 593.8L103.1 592Z" fill="#4a3424" stroke="#2f2f2f" stroke-width="0.5"/>
<rect x="120.2" y="583.2" width="29" height="17.4" rx="1.5" fill="#fff" stroke="#333" stroke-width="1.5" stroke-linejoin="round"/>
<path d="M124.2 583.2V600.6 M145.2 583.2V600.6" fill="none" stroke="#333" stroke-width="1.5"/>
<path d="M162.8 583.2H176.6L183.8 591.9L176.6 600.6H162.8L155.6 591.9Z" fill="#fff" stroke="#333" stroke-width="1.5" stroke-linejoin="round"/>
<rect x="15" y="612.2" width="26.8" height="26" rx="1.8" fill="#fff" stroke="#333" stroke-width="1.5" stroke-linejoin="round"/>
<circle cx="63.3" cy="625.2" r="13.4" fill="#fff" stroke="#333" stroke-width="1.5" stroke-linejoin="round"/>
<path d="M63.3 638.6H77.3" fill="none" stroke="#333" stroke-width="1.5"/>
<path d="M98.9 612.2L111.9 625.2L98.9 638.2L85.9 625.2Z M85.9 625.2H111.9" fill="#fff" stroke="#333" stroke-width="1.5" stroke-linejoin="round"/>
<ellipse cx="134.5" cy="624.6" rx="14.3" ry="8.6" fill="#fff" stroke="#333" stroke-width="1.5" stroke-linejoin="round"/>
<circle cx="169.5" cy="625.2" r="13.6" fill="#fff" stroke="#333" stroke-width="1.5" stroke-linejoin="round"/>
<path d="M17.6 650.3H42.9Q39.3 654.3 39.3 659Q39.3 663.7 42.9 667.4H17.6Q13.9 663.7 13.9 659Q13.9 654.3 17.6 650.3Z" fill="#fff" stroke="#333" stroke-width="1.5" stroke-linejoin="round"/>
<circle cx="63.4" cy="659.2" r="13.6" fill="#fff" stroke="#333" stroke-width="1.5" stroke-linejoin="round"/>
<path d="M53.8 649.6L73 668.8 M73 649.6L53.8 668.8" fill="none" stroke="#333" stroke-width="1.5"/>
<rect x="85" y="650.3" width="27.8" height="17.2" rx="8.6" fill="#fff" stroke="#333" stroke-width="1.5" stroke-linejoin="round"/>
<path d="M119.8 654.6H137.8V649L148.8 659L137.8 669V663.4H119.8Z" fill="#fff" stroke="#333" stroke-width="1.5" stroke-linejoin="round"/>
</g>
<g>
<defs><linearGradient id="cbg" x1="0" y1="0" x2="0" y2="1"><stop offset="0" stop-color="#f4f4f4"/><stop offset="1" stop-color="#dcdcdc"/></linearGradient>
<linearGradient id="sel" x1="0" y1="0" x2="0" y2="1"><stop offset="0" stop-color="#ffffff"/><stop offset="1" stop-color="#f2f2f2"/></linearGradient><linearGradient id="btn" x1="0" y1="0" x2="0" y2="1"><stop offset="0" stop-color="#ffffff"/><stop offset="1" stop-color="#e3e3e3"/></linearGradient></defs>
<text x="1695.6" y="98.9" font-size="12.7" font-weight="bold" fill="#636363" textLength="50.5" lengthAdjust="spacingAndGlyphs" stroke="#636363" stroke-width="0.32">Diagram</text>
<path d="M1812.2 91 L1819.8 98.4 M1819.8 91 L1812.2 98.4" stroke="#afc5ea" stroke-width="1.9"/>
<rect x="1603" y="111.95" width="236" height="1.1" fill="#dde0ea"/>
<rect x="1603" y="255.95" width="236" height="1.1" fill="#dde0ea"/>
<rect x="1603" y="399.25" width="236" height="1.1" fill="#dde0ea"/>
<rect x="1603" y="490.95" width="236" height="1.1" fill="#dde0ea"/>
<rect x="1603" y="553.75" width="236" height="1.1" fill="#dde0ea"/>
<text x="1620.6" y="137" font-size="11.9" font-weight="bold" fill="#5a5a5a" stroke="#5a5a5a" stroke-width="0.32">View</text>
<rect x="1620.8" y="153.65" width="9.6" height="9.6" rx="2.2" fill="url(#cbg)" stroke="#b5b5b5" stroke-width="0.9"/><path d="M1622.5 158.55 L1625.1 160.85 L1628.9 155.55" fill="none" stroke="#333" stroke-width="2.1" stroke-linejoin="miter"/>
<text x="1638.7" y="162.9" font-size="11.8" fill="#6c6c6c" stroke="#6c6c6c" stroke-width="0.32">Grid</text>
<rect x="1620.8" y="177.7" width="9.6" height="9.6" rx="2.2" fill="url(#cbg)" stroke="#b5b5b5" stroke-width="0.9"/>
<text x="1638.7" y="187.5" font-size="11.8" fill="#6c6c6c" stroke="#6c6c6c" stroke-width="0.32">Page View</text>
<rect x="1620.8" y="202.9" width="9.6" height="9.6" rx="2.2" fill="url(#cbg)" stroke="#b5b5b5" stroke-width="0.9"/>
<text x="1638.7" y="211.9" font-size="11.8" fill="#6c6c6c" stroke="#6c6c6c" stroke-width="0.32">Background</text>
<rect x="1620.8" y="227.1" width="9.6" height="9.6" rx="2.2" fill="url(#cbg)" stroke="#b5b5b5" stroke-width="0.9"/>
<text x="1638.7" y="236.9" font-size="11.8" fill="#6c6c6c" stroke="#6c6c6c" stroke-width="0.32">Shadow</text>
<rect x="1713.4" y="149.9" width="42.6" height="18.6" fill="#fff" stroke="#d0d0d0" stroke-width="0.9"/>
<text x="1752.6" y="163.7" font-size="12.6" fill="#111" text-anchor="end" stroke="#111" stroke-width="0.32">10 pt</text>
<rect x="1756.9" y="150.3" width="10.3" height="17.8" rx="2.2" fill="#fbfbfb" stroke="#c9c9c9" stroke-width="0.8"/><path d="M1756.9 159.2H1767.2" stroke="#d0d0d0" stroke-width="0.8"/>
<path d="M1758.6 156.9 L1762.05 152.9 L1765.5 156.9Z M1758.6 161.5 L1762.05 165.5 L1765.5 161.5Z" fill="#a8a8a8"/>
<rect x="1775.1" y="148.7" width="43.4" height="19.9" rx="3" fill="url(#btn)" stroke="#8e8e8e" stroke-width="1"/>
<rect x="1778.8" y="151.9" width="36" height="13.6" fill="#d1d1d1" stroke="#1d1d1d" stroke-width="1.2"/>
<rect x="1713.9" y="198.8" width="53.4" height="18.9" rx="3.4" fill="url(#btn)" stroke="#939393" stroke-width="1"/>
<text x="1723.4" y="211.7" font-size="11.8" fill="#333" textLength="33.9" lengthAdjust="spacingAndGlyphs" stroke="#333" stroke-width="0.32">Image</text>
<text x="1620.6" y="279.8" font-size="11.9" font-weight="bold" fill="#5a5a5a" stroke="#5a5a5a" stroke-width="0.32">Options</text>
<rect x="1620.8" y="296.65" width="9.6" height="9.6" rx="2.2" fill="url(#cbg)" stroke="#b5b5b5" stroke-width="0.9"/><path d="M1622.5 301.55 L1625.1 303.85 L1628.9 298.55" fill="none" stroke="#333" stroke-width="2.1" stroke-linejoin="miter"/>
<text x="1638.7" y="305.1" font-size="11.8" fill="#6c6c6c" stroke="#6c6c6c" stroke-width="0.32">Connection Arrows</text>
<rect x="1620.8" y="320.7" width="9.6" height="9.6" rx="2.2" fill="url(#cbg)" stroke="#b5b5b5" stroke-width="0.9"/><path d="M1622.5 325.6 L1625.1 327.9 L1628.9 322.6" fill="none" stroke="#333" stroke-width="2.1" stroke-linejoin="miter"/>
<text x="1638.7" y="329.5" font-size="11.8" fill="#6c6c6c" stroke="#6c6c6c" stroke-width="0.32">Connection Points</text>
<rect x="1620.8" y="345.7" width="9.6" height="9.6" rx="2.2" fill="url(#cbg)" stroke="#b5b5b5" stroke-width="0.9"/><path d="M1622.5 350.6 L1625.1 352.9 L1628.9 347.6" fill="none" stroke="#333" stroke-width="2.1" stroke-linejoin="miter"/>
<text x="1638.7" y="354.6" font-size="11.8" fill="#6c6c6c" stroke="#6c6c6c" stroke-width="0.32">Guides</text>
<rect x="1620.8" y="369.7" width="9.6" height="9.6" rx="2.2" fill="url(#cbg)" stroke="#b5b5b5" stroke-width="0.9"/><path d="M1622.5 374.6 L1625.1 376.9 L1628.9 371.6" fill="none" stroke="#333" stroke-width="2.1" stroke-linejoin="miter"/>
<text x="1638.7" y="378.8" font-size="11.8" fill="#6c6c6c" stroke="#6c6c6c" stroke-width="0.32">Autosave</text>
<text x="1620.6" y="423.4" font-size="11.9" font-weight="bold" fill="#5a5a5a" stroke="#5a5a5a" stroke-width="0.32">Paper Size</text>
<rect x="1620.4" y="431.5" width="198.6" height="15.4" rx="4" fill="url(#sel)" stroke="#a9a9a9" stroke-width="0.9"/>
<text x="1628.9" y="443.1" font-size="12.1" fill="#222" textLength="130.6" lengthAdjust="spacingAndGlyphs" stroke="#222" stroke-width="0.32">A4 (210 mm x 297 mm)</text>
<path d="M1807.6 438 L1810.4 434 L1813.2 438Z M1807.6 440.2 L1810.4 444.2 L1813.2 440.2Z" fill="#222"/>
<circle cx="1633.1" cy="463.6" r="4.9" fill="url(#cbg)" stroke="#b0b0b0" stroke-width="0.9"/><circle cx="1633.1" cy="463.6" r="2.2" fill="#4a4a4a"/>
<text x="1645.6" y="468.3" font-size="11.8" fill="#6c6c6c" stroke="#6c6c6c" stroke-width="0.32">Portrait</text>
<circle cx="1698.7" cy="463.6" r="4.9" fill="url(#cbg)" stroke="#b0b0b0" stroke-width="0.9"/>
<text x="1711.5" y="468.3" font-size="11.8" fill="#6c6c6c" stroke="#6c6c6c" stroke-width="0.32">Landscape</text>
<rect x="1620.4" y="504.9" width="198.6" height="16.4" fill="#fff" stroke="#cfcfcf" stroke-width="0.9"/>
<text x="1719.7" y="516.6" font-size="11.9" fill="#3a3a3a" text-anchor="middle" stroke="#3a3a3a" stroke-width="0.32">Edit Data</text>
<rect x="1620.4" y="524.9" width="198.6" height="16.4" fill="#fff" stroke="#cfcfcf" stroke-width="0.9"/>
<text x="1719.7" y="537.4" font-size="11.9" fill="#3a3a3a" text-anchor="middle" stroke="#3a3a3a" stroke-width="0.32">Clear Default Style</text>
</g>
<g>
<rect x="231" y="875.2" width="3.1" height="2.5" fill="#808080"/>
<rect x="231" y="880.6" width="3.1" height="2.5" fill="#808080"/>
<rect x="231" y="885.6" width="3.1" height="2.5" fill="#808080"/>
<text x="282.2" y="887" font-size="12.8" font-weight="bold" fill="#1f8a3d" textLength="64" lengthAdjust="spacingAndGlyphs" stroke="#1f8a3d" stroke-width="0.32">flow_chart</text>
<path d="M391.7 879.1H404 M397.85 873V885.2" stroke="#9a9a9a" stroke-width="2.5"/>
<rect x="411.4" y="862.2" width="0.8" height="37.8" fill="#e6e7ea"/>
<path d="M0 894.6 A5.4 5.4 0 0 0 5.4 900 L0 900 Z" fill="#2c3036"/><path d="M1839 894.6 A5.4 5.4 0 0 1 1833.6 900 L1839 900 Z" fill="#2c3036"/>
</g>
</svg>
</body></html>
